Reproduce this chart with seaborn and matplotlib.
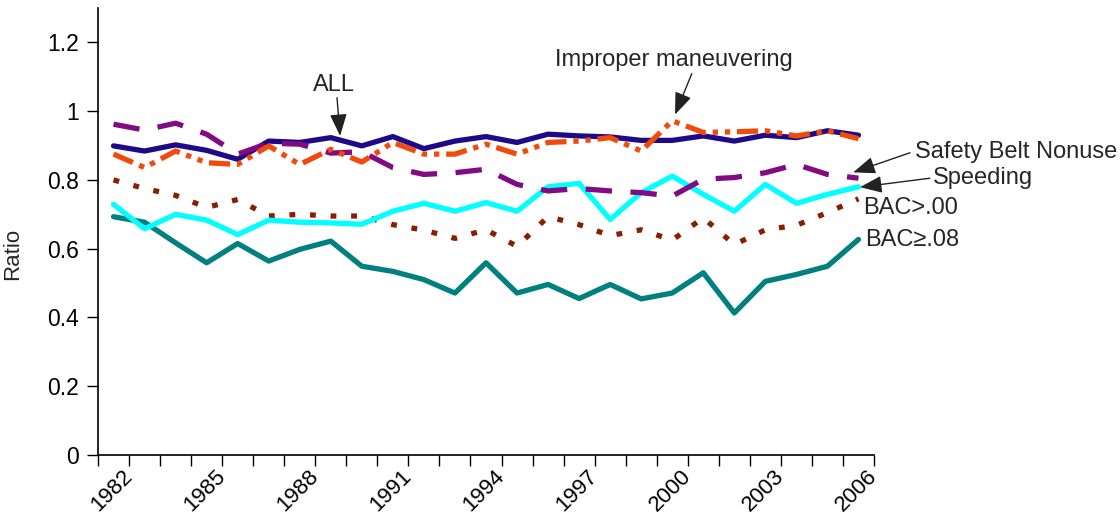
import numpy as np
import pandas as pd
import matplotlib
matplotlib.use("Agg")
import matplotlib.pyplot as plt
import seaborn as sns

years = list(range(1982, 2007))

all_crashes = [0.899, 0.884, 0.902, 0.886, 0.860, 0.913, 0.909, 0.923, 0.899, 0.926,
               0.891, 0.913, 0.926, 0.909, 0.933, 0.928, 0.925, 0.915, 0.915, 0.928,
               0.913, 0.930, 0.923, 0.943, 0.930]
improper = [0.875, 0.836, 0.884, 0.850, 0.845, 0.899, 0.845, 0.889, 0.852, 0.909,
            0.875, 0.875, 0.904, 0.875, 0.909, 0.913, 0.923, 0.884, 0.972, 0.938,
            0.940, 0.943, 0.928, 0.943, 0.920]
belt = [0.962, 0.945, 0.965, 0.933, 0.875, 0.907, 0.904, 0.878, 0.882, 0.836,
        0.816, 0.821, 0.831, 0.787, 0.768, 0.775, 0.768, 0.763, 0.753, 0.802,
        0.807, 0.821, 0.845, 0.816, 0.805]
speeding = [0.729, 0.658, 0.700, 0.683, 0.641, 0.683, 0.677, 0.675, 0.671, 0.709,
            0.732, 0.709, 0.734, 0.709, 0.780, 0.790, 0.685, 0.763, 0.811, 0.758,
            0.709, 0.787, 0.732, 0.758, 0.780]
bac00 = [0.800, 0.775, 0.755, 0.720, 0.743, 0.695, 0.700, 0.695, 0.695, 0.670,
         0.654, 0.630, 0.655, 0.607, 0.693, 0.670, 0.638, 0.655, 0.625, 0.690,
         0.612, 0.655, 0.668, 0.705, 0.745]
bac08 = [0.693, 0.677, 0.617, 0.559, 0.615, 0.564, 0.598, 0.622, 0.549, 0.534,
         0.510, 0.471, 0.559, 0.471, 0.496, 0.455, 0.496, 0.454, 0.471, 0.530,
         0.413, 0.505, 0.525, 0.549, 0.627]

series = {
    "BAC>=.08": bac08,
    "BAC>.00": bac00,
    "Speeding": speeding,
    "ALL": all_crashes,
    "Safety Belt Nonuse": belt,
    "Improper maneuvering": improper,
}

colors = {
    "ALL": "#1E0A88",
    "Improper maneuvering": "#F24A0A",
    "Safety Belt Nonuse": "#820A82",
    "Speeding": "#00FFFF",
    "BAC>.00": "#8A1E00",
    "BAC>=.08": "#008080",
}
dashes = {
    "ALL": "",
    "Improper maneuvering": (4, 1.3, 1, 1.3, 1, 1.3),
    "Safety Belt Nonuse": (5, 3.5),
    "Speeding": "",
    "BAC>.00": (1.1, 2.8),
    "BAC>=.08": "",
}

rows = []
for name, vals in series.items():
    for y, v in zip(years, vals):
        rows.append({"year": y, "ratio": v, "series": name})
df = pd.DataFrame(rows)

sns.set_style("ticks")
plt.rcParams["font.family"] = ["Liberation Sans", "DejaVu Sans"]

fig = plt.figure(figsize=(11.2, 5.18), dpi=100)
ax = fig.add_axes([98 / 1120, 1 - 455 / 518, 776 / 1120, 447 / 518])

sns.lineplot(data=df, x="year", y="ratio", hue="series", style="series",
             palette=colors, dashes=dashes, hue_order=list(series.keys()),
             style_order=list(series.keys()), linewidth=3.8, legend=False, ax=ax)

ax.set_xlim(1981.5, 2006.5)
ax.set_ylim(0, 1.3)
ax.set_yticks([0, 0.2, 0.4, 0.6, 0.8, 1.0, 1.2])
ax.set_yticklabels(["0", "0.2", "0.4", "0.6", "0.8", "1", "1.2"], fontsize=16.5)

bounds = np.arange(1981.5, 2007, 1)
ax.set_xticks(bounds)
labels = []
for b in bounds:
    yr = int(b - 0.5)
    labels.append(str(yr) if yr in range(1982, 2007, 3) else "")
ax.set_xticklabels(labels, fontsize=16, rotation=45, ha="right", va="center",
                   rotation_mode="anchor")
ax.tick_params(axis="x", length=8, width=1, pad=5, colors="black")
ax.tick_params(axis="y", length=8, width=1, pad=6, colors="black")

ax.set_xlabel("")
ax.set_ylabel("Ratio", fontsize=16)
ax.yaxis.set_label_coords(-0.097, 0.45)

sns.despine(ax=ax)
for s in ["left", "bottom"]:
    ax.spines[s].set_color("black")
    ax.spines[s].set_linewidth(1.2)

arrow = dict(arrowstyle="-|>,head_length=0.9,head_width=0.35", color="#222222",
             lw=1, shrinkA=0, shrinkB=0, mutation_scale=15)

fs = 17
ax.text(1989.10, 1.077, "ALL", fontsize=fs, ha="center", va="center")
ax.annotate("", xy=(1989.30, 0.928), xytext=(1989.20, 1.039), arrowprops=arrow)

ax.text(2000.04, 1.150, "Improper maneuvering", fontsize=fs, ha="center", va="center")
ax.annotate("", xy=(2000.09, 0.990), xytext=(2000.63, 1.109), arrowprops=arrow)

ax.text(2007.82, 0.882, "Safety Belt Nonuse", fontsize=fs, ha="left", va="center",
        clip_on=False)
ax.annotate("", xy=(2005.83, 0.822), xytext=(2007.66, 0.879), arrowprops=arrow,
            annotation_clip=False)

ax.text(2008.40, 0.806, "Speeding", fontsize=fs, ha="left", va="center", clip_on=False)
ax.annotate("", xy=(2006.05, 0.779), xytext=(2008.30, 0.805), arrowprops=arrow,
            annotation_clip=False)

ax.text(2006.16, 0.717, "BAC>.00", fontsize=fs, ha="left", va="center", clip_on=False)
ax.text(2006.21, 0.625, "BAC\u2265.08", fontsize=fs, ha="left", va="center", clip_on=False)

fig.savefig("out.png", dpi=100)
